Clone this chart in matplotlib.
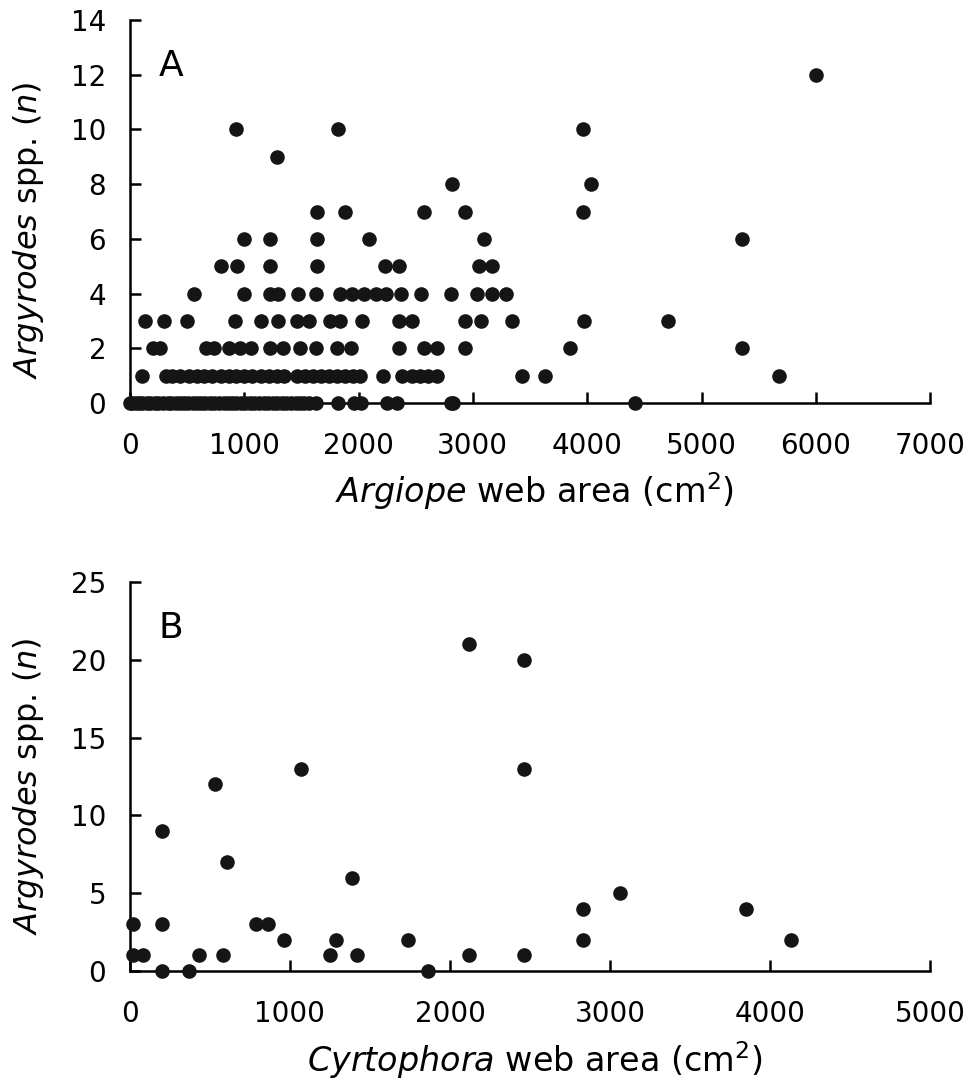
import numpy as np
import matplotlib
matplotlib.use('Agg')
import matplotlib.pyplot as plt
import matplotlib.ticker as ticker

plt.rcParams['font.family'] = ['DejaVu Sans']
plt.rcParams['mathtext.fontset'] = 'custom'
plt.rcParams['mathtext.rm'] = 'DejaVu Sans'
plt.rcParams['mathtext.it'] = 'DejaVu Sans:italic'

# Panel A: Argiope web area (cm2) grouped by number of Argyrodes found
argiope_n0 = [0, 20, 50, 80, 110, 150, 180, 220, 250, 290, 330, 360, 400, 440, 470,
              510, 550, 590, 620, 660, 700, 740, 780, 820, 860, 890, 930, 970, 1010,
              1050, 1090, 1130, 1170, 1210, 1250, 1290, 1330, 1370, 1410, 1450, 1490,
              1520, 1570, 1630, 1820, 1960, 2020, 2250, 2340, 2810, 2830, 4420]
argiope_n1 = [110, 320, 370, 440, 520, 590, 650, 720, 800, 870, 930, 1000, 1070, 1150,
              1220, 1290, 1350, 1460, 1530, 1600, 1670, 1740, 1810, 1880, 1950, 2010,
              2210, 2380, 2470, 2540, 2610, 2690, 3430, 3630, 5680]
argiope_n2 = [200, 260, 670, 740, 870, 960, 1060, 1230, 1340, 1490, 1630, 1810, 1930,
              2350, 2570, 2690, 2930, 3850, 5350]
argiope_n3 = [130, 300, 500, 920, 1150, 1300, 1460, 1570, 1750, 1840, 2030, 2350, 2470,
              2930, 3070, 3340, 3970, 4710]
argiope_n4 = [560, 1000, 1230, 1300, 1470, 1630, 1840, 1940, 2050, 2150, 2240, 2370,
              2550, 2810, 3040, 3170, 3290]
argiope_n5 = [800, 940, 1230, 1640, 2230, 2350, 3050, 3170]
argiope_n6 = [1000, 1230, 1640, 2090, 3100, 5350]
argiope_n7 = [1640, 1880, 2570, 2930, 3960]
argiope_n8 = [2820, 4030]
argiope_n9 = [1290]
argiope_n10 = [930, 1820, 3960]
argiope_n12 = [6000]

# Panel B: Cyrtophora webs
cyrto_area = [2120, 2460, 1070, 2460, 530, 200, 610, 1390, 3060, 2830, 3850,
              20, 200, 790, 860, 960, 1290, 1740, 2830, 4130,
              20, 80, 430, 580, 1250, 1420, 2120, 2460, 200, 370, 1860]
cyrto_argy = [21, 20, 13, 13, 12, 9, 7, 6, 5, 4, 4,
              3, 3, 3, 3, 2, 2, 2, 2, 2,
              1, 1, 1, 1, 1, 1, 1, 1, 0, 0, 0]


def stack_rows(rows):
    ''' turn {count: [areas]} into x, y arrays '''
    x, y = [], []
    for n, areas in rows.items():
        x += areas
        y += [n] * len(areas)
    return np.array(x), np.array(y)


def style_axis(ax, xmax, xstep, ymax, ystep):
    ax.set_xlim(0, xmax)
    ax.set_ylim(0, ymax)
    ax.xaxis.set_major_locator(ticker.MultipleLocator(xstep))
    ax.yaxis.set_major_locator(ticker.MultipleLocator(ystep))
    for side in ['top', 'right']:
        ax.spines[side].set_visible(False)
    for side in ['left', 'bottom']:
        ax.spines[side].set_linewidth(1.8)
    ax.tick_params(which='major', direction='in', length=8, width=1.8, labelsize=20)
    ax.tick_params(axis='y', pad=17)
    ax.tick_params(axis='x', pad=21)


def scatter_panel(ax, x, y, letter, xlabel, ylab_y):
    ax.plot(x, y, 'o', color='#151515', markersize=10.5, markeredgewidth=0,
            clip_on=False, zorder=3)
    ax.set_xlabel(xlabel, fontsize=24)
    ax.set_ylabel(r'$\mathit{Argyrodes}$ spp. ($\mathit{n}$)', fontsize=23)
    ax.yaxis.set_label_coords(-0.105, ylab_y)
    ax.text(0.036, 0.925, letter, fontsize=26, transform=ax.transAxes, va='top')


if __name__ == '__main__':

    fig = plt.figure(figsize=(9.69, 10.88), dpi=100)

    rows = {0: argiope_n0, 1: argiope_n1, 2: argiope_n2, 3: argiope_n3, 4: argiope_n4,
            5: argiope_n5, 6: argiope_n6, 7: argiope_n7, 8: argiope_n8, 9: argiope_n9,
            10: argiope_n10, 12: argiope_n12}
    xa, ya = stack_rows(rows)

    ax1 = fig.add_axes([0.134, 0.6296, 0.826, 0.352])
    style_axis(ax1, 7000, 1000, 14, 2)
    scatter_panel(ax1, xa, ya, 'A', r'$\mathit{Argiope}$ web area (cm$^2$)', 0.45)
    ax1.xaxis.set_label_coords(0.506, -0.175)

    ax2 = fig.add_axes([0.134, 0.1075, 0.826, 0.3575])
    style_axis(ax2, 5000, 1000, 25, 5)
    scatter_panel(ax2, cyrto_area, cyrto_argy, 'B',
                  r'$\mathit{Cyrtophora}$ web area (cm$^2$)', 0.475)
    ax2.xaxis.set_label_coords(0.506, -0.175)

    plt.savefig('out.png', dpi=100)
